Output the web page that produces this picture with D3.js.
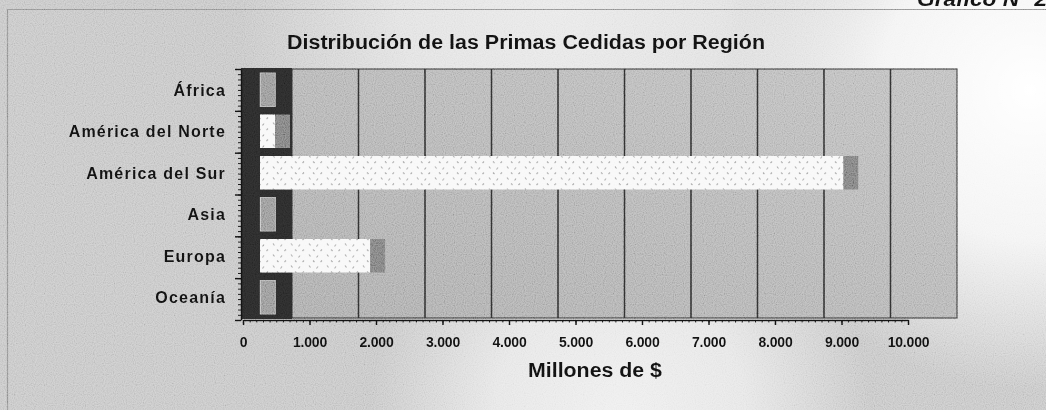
<!DOCTYPE html>
<html>
<head>
<meta charset="utf-8">
<script src="https://cdn.jsdelivr.net/npm/d3@7"></script>
<style>
  html, body { margin: 0; padding: 0; background: #fff; }
  svg { display: block; font-family: "Liberation Sans", Arial, Helvetica, sans-serif; }
</style>
</head>
<body>
<svg id="chart" width="1046" height="410"></svg>
<script>
// Data (millones de $)
const categories = ['África', 'América del Norte', 'América del Sur', 'Asia', 'Europa', 'Oceanía']
const primasCedidas = [4, 226, 8770, 6, 1655, 5]
const xTicks = [0, 1000, 2000, 3000, 4000, 5000, 6000, 7000, 8000, 9000, 10000]
const xTickLabels = ['0', '1.000', '2.000', '3.000', '4.000', '5.000', '6.000', '7.000', '8.000', '9.000', '10.000']

const W = 1046, H = 410
const plot = { left: 243, right: 908, top: 69, bottom: 320 }
const wallDepth = 49      // horizontal shift of back wall (pseudo 3D)
const barFront = 17, barBack = 32

const svg = d3.select('#chart')
const defs = svg.append('defs')

function radial(id, cx, cy, r, op) {
  const g = defs.append('radialGradient').attr('id', id)
    .attr('gradientUnits', 'userSpaceOnUse').attr('cx', cx).attr('cy', cy).attr('r', r)
  g.append('stop').attr('offset', 0).attr('stop-color', '#fff').attr('stop-opacity', op)
  g.append('stop').attr('offset', 0.5).attr('stop-color', '#fff').attr('stop-opacity', op * 0.8)
  g.append('stop').attr('offset', 1).attr('stop-color', '#fff').attr('stop-opacity', 0)
}
radial('glowTR', 1030, 90, 300, 1)
radial('glowB', 620, 410, 250, 0.7)
radial('glowT', 560, 10, 320, 0.6)

const wallGrad = defs.append('linearGradient').attr('id', 'wallGrad')
  .attr('x1', 0).attr('y1', 1).attr('x2', 1).attr('y2', 0)
wallGrad.append('stop').attr('offset', 0).attr('stop-color', '#a9a9a9')
wallGrad.append('stop').attr('offset', 1).attr('stop-color', '#bdbdbd')

// scan grain (grey noise blended with overlay so the mean tone is kept)
const grain = defs.append('filter').attr('id', 'grain')
  .attr('x', 0).attr('y', 0).attr('width', 1).attr('height', 1)
grain.append('feTurbulence').attr('type', 'fractalNoise')
  .attr('baseFrequency', 0.9).attr('numOctaves', 1).attr('seed', 3)
grain.append('feColorMatrix').attr('type', 'matrix')
  .attr('values', '1.6 0 0 0 -0.3  1.6 0 0 0 -0.3  1.6 0 0 0 -0.3  0 0 0 0 1')

// dotted fill for bar fronts
const dots = defs.append('pattern').attr('id', 'dots')
  .attr('patternUnits', 'userSpaceOnUse').attr('width', 18).attr('height', 11)
dots.append('rect').attr('width', 18).attr('height', 11).attr('fill', '#f8f8f8')
dots.append('path').attr('d', 'M3 1.5 l1.5 2 M12 2.5 l-1.5 2 M7 7.5 l1.5 1.5 M16 7.5 l-1.5 1.5')
  .attr('stroke', '#a8a8a8').attr('stroke-width', 1.2)

svg.append('rect').attr('width', W).attr('height', H).attr('fill', '#c5c5c5')
svg.append('rect').attr('width', W).attr('height', H).attr('fill', 'url(#glowT)')
svg.append('rect').attr('width', W).attr('height', H).attr('fill', 'url(#glowB)')
svg.append('rect').attr('width', W).attr('height', H).attr('fill', 'url(#glowTR)')

// frame of the chart area
svg.append('path').attr('d', 'M7.5 420 V9.5 H1046')
  .attr('fill', 'none').attr('stroke', '#8f8f8f').attr('stroke-width', 1.2)

// --- scales
const x = d3.scaleLinear().domain([0, 10000]).range([plot.left, plot.right])
const y = d3.scaleBand().domain(categories).range([plot.top, plot.bottom - 2]).padding(0)
const bw = y.bandwidth()

// back wall
svg.append('rect')
  .attr('x', x(0) + wallDepth).attr('y', plot.top)
  .attr('width', x(10000) - x(0)).attr('height', plot.bottom - 2 - plot.top)
  .attr('fill', 'url(#wallGrad)').attr('stroke', '#3a3a3a').attr('stroke-width', 1.2)

// gridlines on back wall
svg.append('g').selectAll('line')
  .data(xTicks.filter((d) => d > 0 && d < 10000))
  .join('line')
  .attr('x1', (d) => x(d) + wallDepth).attr('x2', (d) => x(d) + wallDepth)
  .attr('y1', plot.top).attr('y2', plot.bottom - 2)
  .attr('stroke', '#2e2e2e').attr('stroke-width', 1.6)

// side wall (dark)
svg.append('rect')
  .attr('x', x(0) - 2).attr('y', plot.top - 1)
  .attr('width', wallDepth + 2).attr('height', plot.bottom - plot.top)
  .attr('fill', '#2a2a2a')

// --- bars
const rows = categories.map((c, i) => ({ cat: c, value: primasCedidas[i] }))
const bars = svg.append('g').selectAll('g').data(rows).join('g')

// end face
bars.append('rect')
  .attr('x', (d) => x(d.value) + barFront)
  .attr('y', (d) => y(d.cat) + 4)
  .attr('width', barBack - barFront)
  .attr('height', bw - 8)
  .attr('fill', (d) => d.value < 50 ? '#959595' : '#7c7c7c')
  .attr('stroke', (d) => d.value < 50 ? '#b0b0b0' : 'none')
  .attr('stroke-width', 1)

// front face
bars.append('rect')
  .attr('x', x(0) + barFront)
  .attr('y', (d) => y(d.cat) + 4)
  .attr('width', (d) => x(d.value) - x(0))
  .attr('height', bw - 8)
  .attr('fill', 'url(#dots)')

// --- axes
const yAxisX = plot.left - 2
const yMinor = d3.scaleLinear().domain([0, 48]).range([plot.bottom, plot.top])
svg.append('g').attr('transform', `translate(${yAxisX},0)`)
  .call(d3.axisLeft(yMinor).tickValues(d3.range(0, 49)).tickSize(3).tickFormat('').tickSizeOuter(0))
  .call((g) => g.selectAll('line').attr('stroke', '#111'))
  .call((g) => g.select('.domain').attr('stroke', '#111').attr('stroke-width', 1.5))
svg.append('g').attr('transform', `translate(${yAxisX},0)`)
  .call(d3.axisLeft(yMinor).tickValues(d3.range(0, 49, 8)).tickSize(6).tickFormat('').tickSizeOuter(0))
  .call((g) => g.selectAll('line').attr('stroke', '#111').attr('stroke-width', 1.5))
  .call((g) => g.select('.domain').remove())

// category labels
svg.append('g').selectAll('text').data(categories).join('text')
  .attr('x', 226)
  .attr('y', (d) => y(d) + bw / 2 + 6)
  .attr('text-anchor', 'end')
  .attr('font-size', 16)
  .attr('font-weight', 'bold')
  .attr('letter-spacing', 1.2)
  .attr('fill', '#111')
  .text((d) => d)

// x axis: minor ticks, major ticks + labels
svg.append('g').attr('transform', `translate(0,${plot.bottom})`)
  .call(d3.axisBottom(x).tickValues(d3.range(0, 10001, 100)).tickSize(2.5).tickFormat('').tickSizeOuter(0))
  .call((g) => g.selectAll('line').attr('stroke', '#111'))
  .call((g) => g.select('.domain').attr('stroke', '#111').attr('stroke-width', 1.5))
svg.append('g').attr('transform', `translate(0,${plot.bottom})`)
  .call(d3.axisBottom(x).tickValues(xTicks).tickSize(5).tickPadding(12)
    .tickFormat((d, i) => xTickLabels[i]).tickSizeOuter(0))
  .call((g) => g.select('.domain').remove())
  .call((g) => g.selectAll('line').attr('stroke', '#111').attr('stroke-width', 1.5))
  .call((g) => g.selectAll('text')
    .attr('font-family', '"Liberation Sans", Arial, sans-serif')
    .attr('font-size', 14).attr('font-weight', 'bold').attr('fill', '#111')
    .attr('letter-spacing', -0.2))

// --- titles
svg.append('text')
  .attr('x', 287).attr('y', 49)
  .attr('font-size', 20).attr('font-weight', 'bold').attr('fill', '#111')
  .attr('textLength', 478).attr('lengthAdjust', 'spacingAndGlyphs')
  .text('Distribución de las Primas Cedidas por Región')

svg.append('text')
  .attr('x', 528).attr('y', 377)
  .attr('font-size', 20).attr('font-weight', 'bold').attr('fill', '#111')
  .attr('textLength', 134).attr('lengthAdjust', 'spacingAndGlyphs')
  .text('Millones de $')

svg.append('text')
  .attr('x', 917).attr('y', 6)
  .attr('font-size', 20).attr('font-weight', 'bold').attr('font-style', 'italic')
  .attr('fill', '#111')
  .attr('textLength', 130).attr('lengthAdjust', 'spacingAndGlyphs')
  .text('Gráfico N° 2')

// scan grain over everything
svg.append('rect').attr('width', W).attr('height', H)
  .attr('filter', 'url(#grain)').attr('opacity', 0.3)
  .style('mix-blend-mode', 'overlay').attr('pointer-events', 'none')
</script>
</body>
</html>
